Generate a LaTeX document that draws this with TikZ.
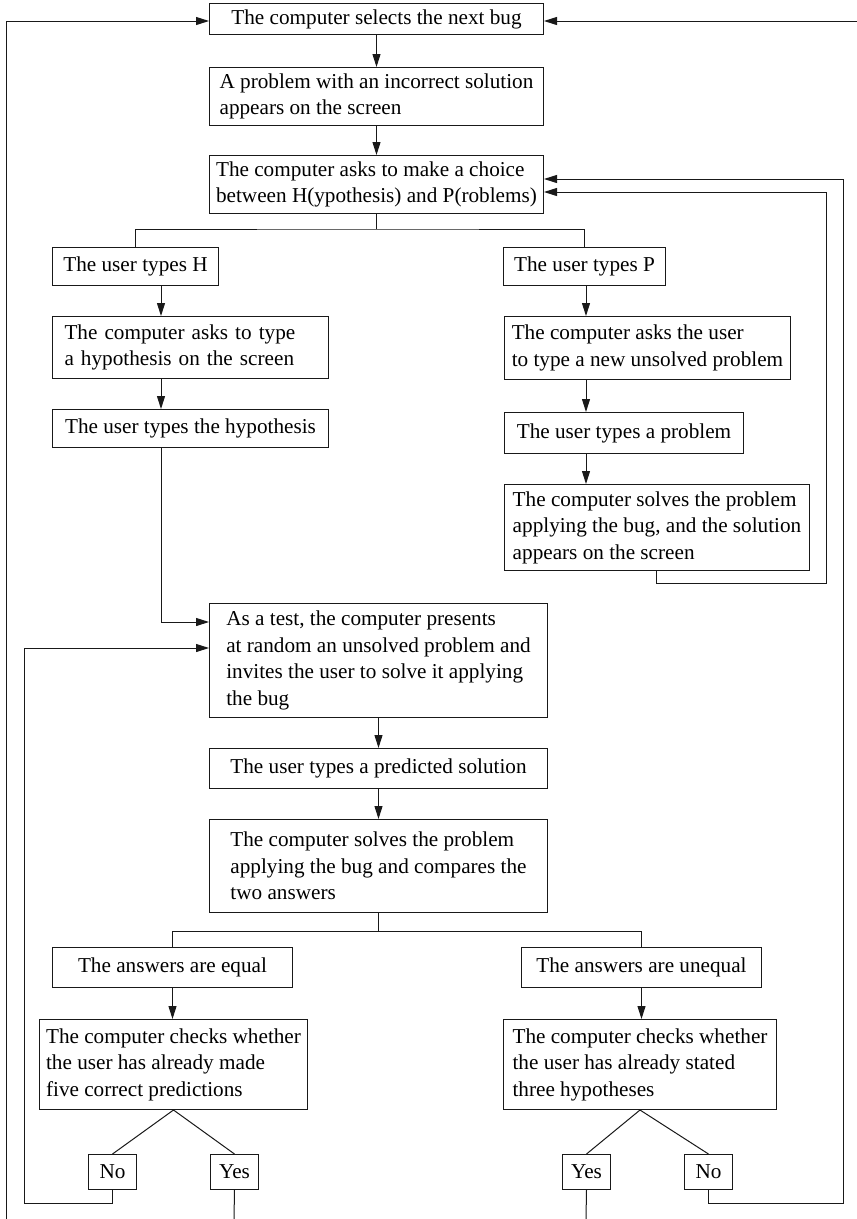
\documentclass[tikz,border=0pt]{standalone}
\usepackage{fontspec}
\setmainfont{Liberation Serif}
\usetikzlibrary{arrows.meta,calc}
\begin{document}
\begin{tikzpicture}[x=1pt,y=-1pt,
  box/.style={draw=black!90, line width=1pt, anchor=north west, align=left, inner sep=0pt,
              font=\fontsize{21.2}{26.5}\selectfont, text=black},
  ln/.style={draw=black!90, line width=1pt},
  arr/.style={ln, -{Triangle[length=13pt,width=8pt]}}]
\fill[white] (0,0) rectangle (857,1219);
\useasboundingbox (0,0) rectangle (857,1219);

% boxes
\node[box, minimum width=334pt, minimum height=31pt] (sel) at (209,3) {The computer selects the next bug};
\node[box, minimum width=334pt, minimum height=58pt] (prob) at (209,67) {A problem with an incorrect solution\\appears on the screen};
\node[box, minimum width=334pt, minimum height=58pt] (choice) at (209,155) {The computer asks to make a choice\\between H(ypothesis) and P(roblems)};
\node[box, minimum width=166pt, minimum height=38pt] (uh) at (52,247) {The user types H};
\node[box, minimum width=162pt, minimum height=38pt] (up) at (503,247) {The user types P};
\node[box, minimum height=62pt, text width=252pt, inner xsep=12pt] (askh) at (52,316) {The computer asks to type\\a hypothesis on the screen};
\node[box, minimum width=276pt, minimum height=38pt] (uhyp) at (52,409) {The user types the hypothesis};
\node[box, minimum width=286pt, minimum height=63pt] (askp) at (504,316) {The computer asks the user\\to type a new unsolved problem};
\node[box, minimum width=239pt, minimum height=41pt] (uprob) at (504,412) {The user types a problem};
\node[box, minimum width=305pt, minimum height=86pt] (solve) at (504,484) {The computer solves the problem\\applying the bug, and the solution\\appears on the screen};
\node[box, minimum width=338pt, minimum height=114pt] (test) at (209,603) {As a test, the computer presents\\at random an unsolved problem and\\invites the user to solve it applying\\the bug};
\node[box, minimum width=338pt, minimum height=40pt] (pred) at (209,748) {The user types a predicted solution};
\node[box, minimum width=338pt, minimum height=93pt] (comp) at (209,819) {The computer solves the problem\\applying the bug and compares the\\two answers};
\node[box, minimum width=240pt, minimum height=40pt] (eq) at (52,947) {The answers are equal};
\node[box, minimum width=240pt, minimum height=40pt] (uneq) at (521,947) {The answers are unequal};
\node[box, minimum width=268pt, minimum height=90pt] (chkl) at (39,1019) {The computer checks whether\\the user has already made\\five correct predictions};
\node[box, minimum width=273pt, minimum height=90pt] (chkr) at (503,1019) {The computer checks whether\\the user has already stated\\three hypotheses};
\node[box, minimum width=48pt, minimum height=35pt] (nol) at (88,1154) {No};
\node[box, minimum width=48pt, minimum height=35pt] (yesl) at (210,1154) {Yes};
\node[box, minimum width=48pt, minimum height=35pt] (yesr) at (562,1154) {Yes};
\node[box, minimum width=48pt, minimum height=35pt] (nor) at (684,1154) {No};

% helper coordinates
\coordinate (hx) at (161,0);
\coordinate (px) at (586,0);
\coordinate (b1) at (376,229);
\coordinate (b2) at (378,931);
\coordinate (t1) at (0,622);
\coordinate (c1) at (656,583);
\coordinate (c2) at (826,583);
\coordinate (c3) at (826,192);
\coordinate (r1) at (843,1203);
\coordinate (r2) at (843,179);
\coordinate (l1) at (24,1203);
\coordinate (l2) at (24,648);
\coordinate (lo1) at (6,1219);
\coordinate (lo2) at (6,21);
\coordinate (ro) at (857,21);
\coordinate (yl) at (234,1219);
\coordinate (yr) at (586,1219);

% main column
\draw[arr] (sel.south) -- (prob.north);
\draw[arr] (prob.south) -- (choice.north);
\draw[ln] (choice.south) -- (choice.south |- b1);
\draw[ln] (uh.north) |- (b1) -| (up.north);

% H branch
\draw[arr] (uh.south -| hx) -- (askh.north -| hx);
\draw[arr] (askh.south -| hx) -- (uhyp.north -| hx);
\draw[arr] (uhyp.south -| hx) |- (test.west |- t1);

% P branch
\draw[arr] (up.south -| px) -- (askp.north -| px);
\draw[arr] (askp.south -| px) -- (uprob.north -| px);
\draw[arr] (uprob.south -| px) -- (solve.north -| px);
\draw[arr] (solve.south -| c1) -- (c1) -- (c2) -- (c3) -- (choice.east |- c3);

% test column
\draw[arr] (test.south) -- (pred.north);
\draw[arr] (pred.south) -- (comp.north);
\draw[ln] (comp.south) -- (comp.south |- b2);
\draw[ln] (eq.north) |- (b2) -| (uneq.north);
\draw[arr] (eq.south) -- (eq.south |- chkl.north);
\draw[arr] (uneq.south) -- (uneq.south |- chkr.north);

% decisions
\draw[ln] (nol.north) -- (chkl.south) -- (yesl.north);
\draw[ln] (yesr.north) -- (chkr.south) -- (nor.north);
\draw[arr] (nol.south) |- (l1) -- (l2) -- (test.west |- l2);
\draw[arr] (nor.south) |- (r1) -- (r2) -- (choice.east |- r2);
\draw[ln] (yesl.south) -- (yl);
\draw[ln] (yesr.south) -- (yr);

% outer loops
\draw[arr] (lo1) -- (lo2) -- (sel.west |- lo2);
\draw[arr] (ro) -- (sel.east |- ro);
\end{tikzpicture}
\end{document}
